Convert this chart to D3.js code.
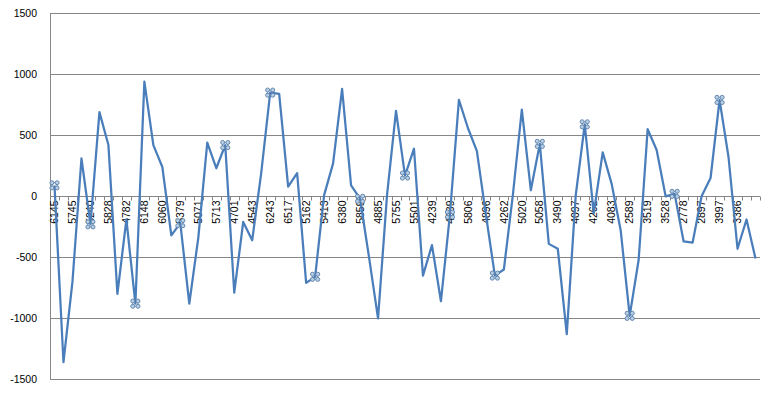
<!DOCTYPE html>
<html>
<head>
<meta charset="utf-8">
<script src="https://d3js.org/d3.v7.min.js"></script>
<style>
  body { margin: 0; background: #fff; }
  svg { display: block; }
</style>
</head>
<body>
<div id="vis"></div>
<script>
  // values of the single series, one per category (79 points)
  var values = [90, -1360, -700, 310, -230, 690, 420, -800, -190, -880,
    940, 420, 240, -320, -220, -880, -340, 440, 230, 420,
    -790, -210, -360, 190, 850, 840, 80, 190, -710, -660,
    10, 270, 880, 90, -20, -500, -1000, 10, 700, 170,
    390, -650, -400, -860, -150, 790, 560, 370, -150, -650,
    -600, 10, 710, 50, 430, -390, -430, -1130, 10, 590,
    -140, 360, 100, -280, -980, -520, 550, 380, 0, 20,
    -370, -380, 0, 150, 790, 320, -430, -190, -510]

  // category labels shown on every other category (even indices)
  var tickLabels = ["6145", "5745", "5240", "5828", "4782", "6148", "6060", "5379", "5071", "5713",
    "4701", "4543", "6243", "6517", "5162", "5413", "6380", "5859", "4885", "5755",
    "5501", "4239", "4839", "5806", "4896", "4262", "5020", "5058", "3490", "4097",
    "4262", "4083", "2589", "3519", "3528", "2778", "2897", "3997", "3386"]

  // points that carry a marker
  var markerIdx = [0, 4, 9, 14, 19, 24, 29, 34, 39, 44, 49, 54, 59, 64, 69, 74]

  var yTicks = [-1500, -1000, -500, 0, 500, 1000, 1500]

  var width = 776, height = 394
  // plot area
  var plotLeft = 50, plotRight = 760, plotTop = 13.3, plotBottom = 379.3

  var svg = d3.select("#vis").append("svg")
    .attr("width", width)
    .attr("height", height)

  var x = d3.scaleBand()
    .domain(d3.range(values.length))
    .range([plotLeft, plotRight])
    .padding(0)

  var y = d3.scaleLinear()
    .domain([-1500, 1500])
    .range([plotBottom, plotTop])

  var cx = function(i) { return x(i) + x.bandwidth() / 2 }

  // horizontal gridlines
  svg.append("g")
    .selectAll("line")
    .data(yTicks)
    .enter()
    .append("line")
      .attr("x1", plotLeft)
      .attr("x2", plotRight)
      .attr("y1", function(d) { return Math.round(y(d)) + 0.5 })
      .attr("y2", function(d) { return Math.round(y(d)) + 0.5 })
      .attr("stroke", "#868686")
      .attr("stroke-width", 1)

  // y axis line
  svg.append("line")
    .attr("x1", plotLeft + 0.5).attr("x2", plotLeft + 0.5)
    .attr("y1", Math.round(y(1500))).attr("y2", Math.round(y(-1500)) + 1)
    .attr("stroke", "#868686")

  // y labels
  svg.append("g")
    .selectAll("text")
    .data(yTicks)
    .enter()
    .append("text")
      .attr("x", 37)
      .attr("y", function(d) { return y(d) })
      .attr("dy", "0.35em")
      .attr("text-anchor", "end")
      .style("font-family", "'Liberation Sans', Arial, sans-serif")
      .style("font-size", "10.5px")
      .style("fill", "#000")
      .text(function(d) { return d })

  // category tick marks at the boundaries
  var y0 = Math.round(y(0)) + 0.5
  var bounds = d3.range(values.length).map(function(i) { return x(i) }).concat([plotRight])
  svg.append("g")
    .selectAll("line")
    .data(bounds)
    .enter()
    .append("line")
      .attr("x1", function(d) { return Math.round(d) + 0.5 })
      .attr("x2", function(d) { return Math.round(d) + 0.5 })
      .attr("y1", y0)
      .attr("y2", y0 + 4)
      .attr("stroke", "#868686")

  // category labels, rotated
  svg.append("g")
    .selectAll("text")
    .data(tickLabels)
    .enter()
    .append("text")
      .attr("transform", function(d, k) { return "translate(" + cx(k * 2) + "," + (y0 + 4) + ") rotate(-90)" })
      .attr("dy", "0.35em")
      .attr("text-anchor", "end")
      .style("font-family", "'Liberation Sans Narrow', 'Liberation Sans', Arial, sans-serif")
      .style("font-size", "10.5px")
      .style("fill", "#000")
      .text(function(d) { return d })

  // the series line
  var line = d3.line()
    .x(function(d, i) { return cx(i) })
    .y(function(d) { return y(d) })

  svg.append("path")
    .datum(values)
    .attr("d", line)
    .attr("fill", "none")
    .attr("stroke", "#4a7ebb")
    .attr("stroke-width", 2.25)
    .attr("stroke-linejoin", "round")

  // markers: four small rings joined in the middle
  var mk = svg.append("g")
    .selectAll("g")
    .data(markerIdx)
    .enter()
    .append("g")
      .attr("transform", function(i) { return "translate(" + cx(i) + "," + y(values[i]) + ")" })

  mk.append("rect")
    .attr("x", -2.6).attr("y", -2.6)
    .attr("width", 5.2).attr("height", 5.2)
    .attr("fill", "none")
    .attr("stroke", "#5b7fa6")
    .attr("stroke-width", 0.8)

  var offs = [[-2.6, -2.6], [2.6, -2.6], [-2.6, 2.6], [2.6, 2.6]]
  offs.forEach(function(o) {
    mk.append("circle")
      .attr("cx", o[0]).attr("cy", o[1])
      .attr("r", 2)
      .attr("fill", "#b7d0e8")
      .attr("stroke", "#5b7fa6")
      .attr("stroke-width", 0.9)
  })
</script>
</body>
</html>
